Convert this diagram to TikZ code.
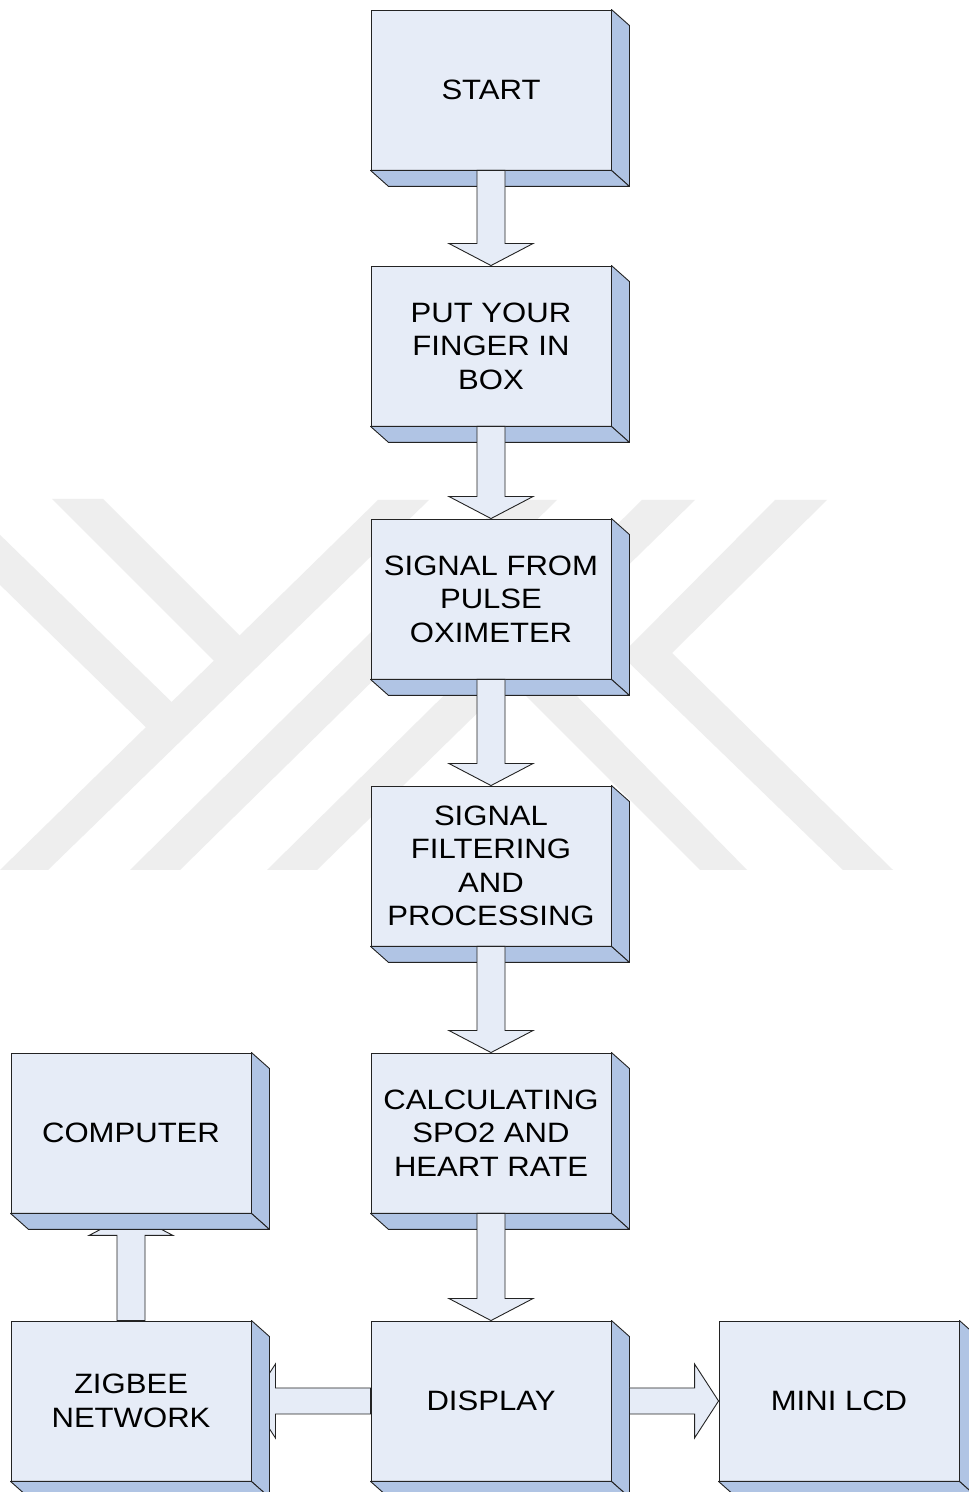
\documentclass[tikz,border=0pt]{standalone}
\usepackage{fontspec}
\setmainfont{Liberation Sans}[FakeStretch=1.11]
\usetikzlibrary{calc}

\pgfdeclarelayer{marks}
\pgfdeclarelayer{under}
\pgfsetlayers{marks,under,main}

\definecolor{facefront}{RGB}{230,236,247}
\definecolor{faceside}{RGB}{176,196,228}
\definecolor{edgeline}{RGB}{35,35,35}
\definecolor{markgray}{RGB}{238,238,238}

\tikzset{
  block/.style={rectangle, draw=edgeline, fill=facefront, line width=0.9pt,
    minimum width=240pt, minimum height=160pt, inner sep=0pt, align=center,
    font=\fontsize{28}{33.5}\selectfont},
  sideface/.style={draw=edgeline, fill=faceside, line width=0.9pt, line join=round},
  fatarrow/.style={draw=edgeline, fill=facefront, line width=0.9pt, line join=miter},
  markband/.style={fill=markgray}
}

% side and bottom faces that give a block its depth
\newcommand\boxdepth[1]{%
  \filldraw[sideface] (#1.north east) -- ++(18,-16) -- ($(#1.south east)+(18,-16)$) -- (#1.south east) -- cycle;
  \filldraw[sideface] (#1.south west) -- ++(18,-16) -- ($(#1.south east)+(18,-16)$) -- (#1.south east) -- cycle;}

% broad downward arrow from the bottom of #1 to the top of #2
\newcommand\flowdown[2]{%
  \filldraw[fatarrow] ($(#1.south)+(-14,0)$) -- ($(#2.north)+(-14,22)$) -- ($(#2.north)+(-42,22)$)
    -- (#2.north) -- ($(#2.north)+(42,22)$) -- ($(#2.north)+(14,22)$) -- ($(#1.south)+(14,0)$) -- cycle;}

\begin{document}
\begin{tikzpicture}[x=1pt,y=1pt]
\useasboundingbox (0,0) rectangle (969,1492);

% faint emblem in the background
\begin{pgfonlayer}{marks}
  \fill[white] (0,0) rectangle (969,1492);
  \begin{scope}[yshift=1492pt, yscale=-1]
    \fill[markband] (52,499) -- (103,499) -- (252,648) -- (226,673) -- cycle;
    \fill[markband] (-5,530) -- (-5,580) -- (158,739) -- (184,714) -- cycle;
    \fill[markband] (0,870) -- (48,870) -- (429,500) -- (378,500) -- cycle;
    \fill[markband] (130,870) -- (180,870) -- (557,500) -- (505,500) -- cycle;
    \fill[markband] (267,870) -- (317,870) -- (695,500) -- (642,500) -- cycle;
    \fill[markband] (775,500) -- (827,500) -- (672,653) -- (893,870) -- (843,870) -- (621,655) -- cycle;
    \fill[markband] (480,650) -- (522,640) -- (747,870) -- (700,870) -- cycle;
  \end{scope}
\end{pgfonlayer}

% main column
\node[block] (start)  at (491,1402) {START};
\node[block] (finger) at (491,1146) {PUT YOUR\\FINGER IN\\BOX};
\node[block] (pulse)  at (491,893)  {SIGNAL FROM\\PULSE\\OXIMETER};
\node[block] (filter) at (491,626)  {SIGNAL\\FILTERING\\AND\\PROCESSING};
\node[block] (calc)   at (491,359)  {CALCULATING\\SPO2 AND\\HEART RATE};
\node[block] (disp)   at (491,91)   {DISPLAY};

% side blocks
\node[block] (comp) at (131,359) {COMPUTER};
\node[block] (zig)  at (131,91)  {ZIGBEE\\NETWORK};
\node[block] (lcd)  at (839,91)  {MINI LCD};

\foreach \b in {start,finger,pulse,filter,calc,disp,comp,zig,lcd}{\boxdepth{\b}}

% arrows whose heads tuck under the neighbouring block
\begin{pgfonlayer}{under}
  \filldraw[fatarrow] ($(zig.north)+(-14,0)$) -- ($(comp.south)+(-14,-22)$) -- ($(comp.south)+(-42,-22)$)
    -- (comp.south) -- ($(comp.south)+(42,-22)$) -- ($(comp.south)+(14,-22)$) -- ($(zig.north)+(14,0)$) -- cycle;
  \filldraw[fatarrow] ($(disp.west)+(0,13)$) -- ($(zig.east)+(24,13)$) -- ($(zig.east)+(24,37)$)
    -- (zig.east) -- ($(zig.east)+(24,-37)$) -- ($(zig.east)+(24,-13)$) -- ($(disp.west)+(0,-13)$) -- cycle;
\end{pgfonlayer}

% flow down the column
\flowdown{start}{finger}
\flowdown{finger}{pulse}
\flowdown{pulse}{filter}
\flowdown{filter}{calc}
\flowdown{calc}{disp}

% display to the small screen
\filldraw[fatarrow] ($(disp.east)+(18,13)$) -- ($(lcd.west)+(-24,13)$) -- ($(lcd.west)+(-24,37)$)
  -- (lcd.west) -- ($(lcd.west)+(-24,-37)$) -- ($(lcd.west)+(-24,-13)$) -- ($(disp.east)+(18,-13)$) -- cycle;
\end{tikzpicture}
\end{document}
